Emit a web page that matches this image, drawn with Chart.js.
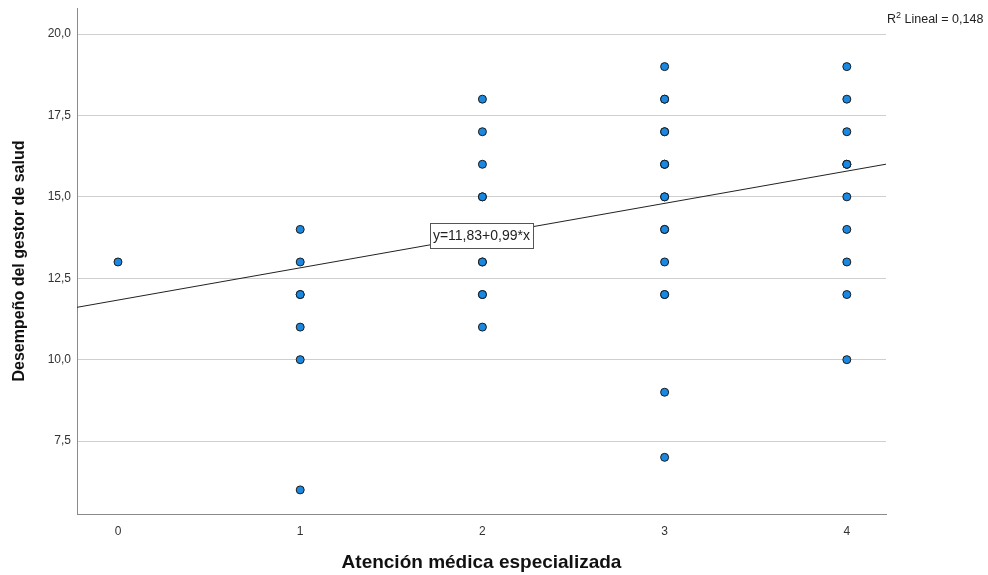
<!DOCTYPE html>
<html>
<head>
<meta charset="utf-8">
<script src="https://cdn.jsdelivr.net/npm/chart.js@4"></script>
<style>
  html, body { margin: 0; padding: 0; background: #fff; }
  #wrap { width: 988px; height: 575px; }
</style>
</head>
<body>
<div id="wrap"><canvas id="c" width="988" height="575"></canvas></div>
<script>
// Observations: "Atención médica especializada" (x) vs "Desempeño del gestor de salud" (y)
const atencion = [0, 1, 1, 1, 1, 1, 1, 1,
  2, 2, 2, 2, 2, 2, 2, 2, 2, 2,
  3, 3, 3, 3, 3, 3, 3, 3, 3, 3, 3, 3, 3, 3, 3, 3, 3,
  4, 4, 4, 4, 4, 4, 4, 4, 4, 4, 4];
const desempeno = [13, 14, 13, 12, 12, 11, 10, 6,
  18, 17, 16, 15, 15, 13, 13, 12, 12, 11,
  19, 18, 18, 17, 17, 16, 16, 16, 15, 15, 14, 14, 13, 12, 12, 9, 7,
  19, 18, 17, 16, 16, 16, 15, 14, 13, 12, 10];

// Linear fit reported by the model
const intercept = 11.83;
const slope = 0.99;
const r2 = '0,148';

const xTicks = [0, 1, 2, 3, 4];
const yTicks = [7.5, 10, 12.5, 15, 17.5, 20];
const xRange = [-0.225, 4.215];
const yRange = [5.26, 20.8];

const points = atencion.map((x, i) => ({ x: x, y: desempeno[i] }));
const fitLine = xRange.map(x => ({ x: x, y: intercept + slope * x }));

const fmt = v => v.toFixed(2).replace('.', ',');
const FONT = '"Liberation Sans", Arial, sans-serif';

const annotations = {
  id: 'annotations',
  afterDatasetsDraw(chart) {
    const { ctx, scales } = chart;
    // equation box on the fit line at x = 2
    const lx = 2;
    const px = scales.x.getPixelForValue(lx);
    const py = scales.y.getPixelForValue(intercept + slope * lx);
    const text = 'y=' + fmt(intercept) + '+' + fmt(slope) + '*x';
    ctx.save();
    ctx.font = '14px ' + FONT;
    const w = Math.round(ctx.measureText(text).width + 6);
    const h = 25;
    const bx = Math.round(px - w / 2) - 0.5;
    const by = Math.round(py - h / 2) + 0.5;
    ctx.fillStyle = '#ffffff';
    ctx.fillRect(bx, by, w, h);
    ctx.strokeStyle = '#555555';
    ctx.lineWidth = 1;
    ctx.strokeRect(bx, by, w, h);
    ctx.fillStyle = '#222222';
    ctx.textAlign = 'center';
    ctx.textBaseline = 'middle';
    ctx.fillText(text, px - 1, py + 1);

    // R² note at top right
    ctx.textAlign = 'left';
    ctx.textBaseline = 'alphabetic';
    let x0 = chart.chartArea.right + 1;
    const y0 = 23;
    ctx.font = '12.5px ' + FONT;
    ctx.fillText('R', x0, y0);
    x0 += ctx.measureText('R').width;
    ctx.font = '9px ' + FONT;
    ctx.fillText('2', x0, y0 - 5);
    x0 += ctx.measureText('2').width;
    ctx.font = '12.5px ' + FONT;
    ctx.fillText(' Lineal = ' + r2, x0, y0);
    ctx.restore();
  }
};

new Chart(document.getElementById('c'), {
  type: 'scatter',
  data: {
    datasets: [
      {
        label: 'Desempeño',
        data: points,
        pointRadius: 4,
        pointBackgroundColor: '#1a88e0',
        pointBorderColor: '#1b1b1b',
        pointBorderWidth: 1,
        order: 1
      },
      {
        type: 'line',
        label: 'Lineal',
        data: fitLine,
        borderColor: '#222222',
        borderWidth: 1,
        pointRadius: 0,
        fill: false,
        order: 0
      }
    ]
  },
  options: {
    responsive: false,
    animation: false,
    layout: { padding: { top: 8, right: 102, bottom: 0, left: 0 } },
    plugins: {
      legend: { display: false },
      tooltip: { enabled: false }
    },
    scales: {
      x: {
        type: 'linear',
        min: xRange[0],
        max: xRange[1],
        afterBuildTicks(scale) { scale.ticks = xTicks.map(v => ({ value: v })); },
        afterFit(scale) { scale.height = 61; scale.paddingLeft = 0; scale.paddingRight = 0; },
        grid: { display: false, drawTicks: false },
        border: { display: true, color: '#8a8a8a', width: 1 },
        ticks: {
          padding: 10,
          color: '#333333',
          font: { family: FONT, size: 12 },
          callback: v => String(v)
        },
        title: {
          display: true,
          text: 'Atención médica especializada',
          color: '#111111',
          font: { family: FONT, size: 19, weight: 'bold' },
          padding: { top: 0, bottom: 1 }
        }
      },
      y: {
        type: 'linear',
        min: yRange[0],
        max: yRange[1],
        afterBuildTicks(scale) { scale.ticks = yTicks.map(v => ({ value: v })); },
        afterFit(scale) { scale.width = 77; scale.paddingTop = 0; scale.paddingBottom = 0; },
        grid: { color: '#cfcfcf', lineWidth: 1, drawTicks: false },
        border: { display: true, color: '#8a8a8a', width: 1 },
        ticks: {
          padding: 6,
          color: '#333333',
          font: { family: FONT, size: 12 },
          callback: v => v.toFixed(1).replace('.', ',')
        },
        title: {
          display: true,
          text: 'Desempeño del gestor de salud',
          color: '#111111',
          font: { family: FONT, size: 16, weight: 'bold' },
          padding: { top: 10, bottom: 0 }
        }
      }
    }
  },
  plugins: [annotations]
});
</script>
</body>
</html>
